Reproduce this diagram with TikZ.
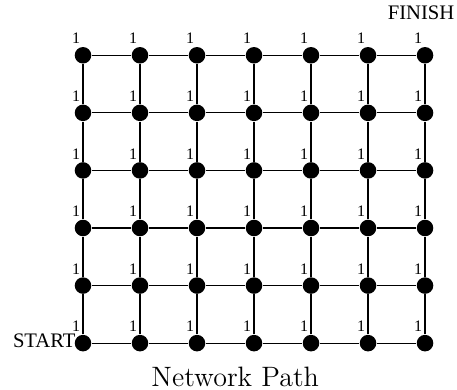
\documentclass[tikz,border=0pt]{standalone}
\usepackage{fontspec}
\newfontfamily\timesfont{Liberation Serif}
\usetikzlibrary{positioning}
\begin{document}
\begin{tikzpicture}[x=1cm,y=1.01cm,line width=0.6pt,
		dot/.style={circle,fill=black,inner sep=0pt,minimum size=0.29cm},
		weight/.style={font=\timesfont\fontsize{8}{9}\selectfont,inner sep=0pt},
		tag/.style={font=\timesfont\fontsize{10.3}{12}\selectfont,inner sep=0pt}]
			\def\cols{6};
			\def\rows{5};
			\useasboundingbox (-1.456,-0.80) rectangle (6.561,5.96);
			% vertices with their weights
			\foreach \i in {0,...,\cols}
				\foreach \j in {0,...,\rows}{
					\node[dot] (n-\i-\j) at (\i,\j) {};
					\node[weight] (w-\i-\j) at (\i-0.12,\j+0.29) {1};
				}
			% grid edges
			\foreach \i in {0,...,\cols}
				\foreach \j [count=\k] in {0,...,4}
					\draw (n-\i-\j) -- (n-\i-\k);
			\foreach \j in {0,...,\rows}
				\foreach \i [count=\k] in {0,...,5}
					\draw (n-\i-\j) -- (n-\k-\j);
			\node[tag] (start) at (-0.68,0.04) {START};
			\node[tag] (finish) [above=0.45cm of n-6-5,xshift=-0.07cm] {FINISH};
			\node[font=\fontsize{14}{16}\selectfont,inner sep=0pt] (title) at (2.67,-0.58) {Network Path};
		\end{tikzpicture}
\end{document}
